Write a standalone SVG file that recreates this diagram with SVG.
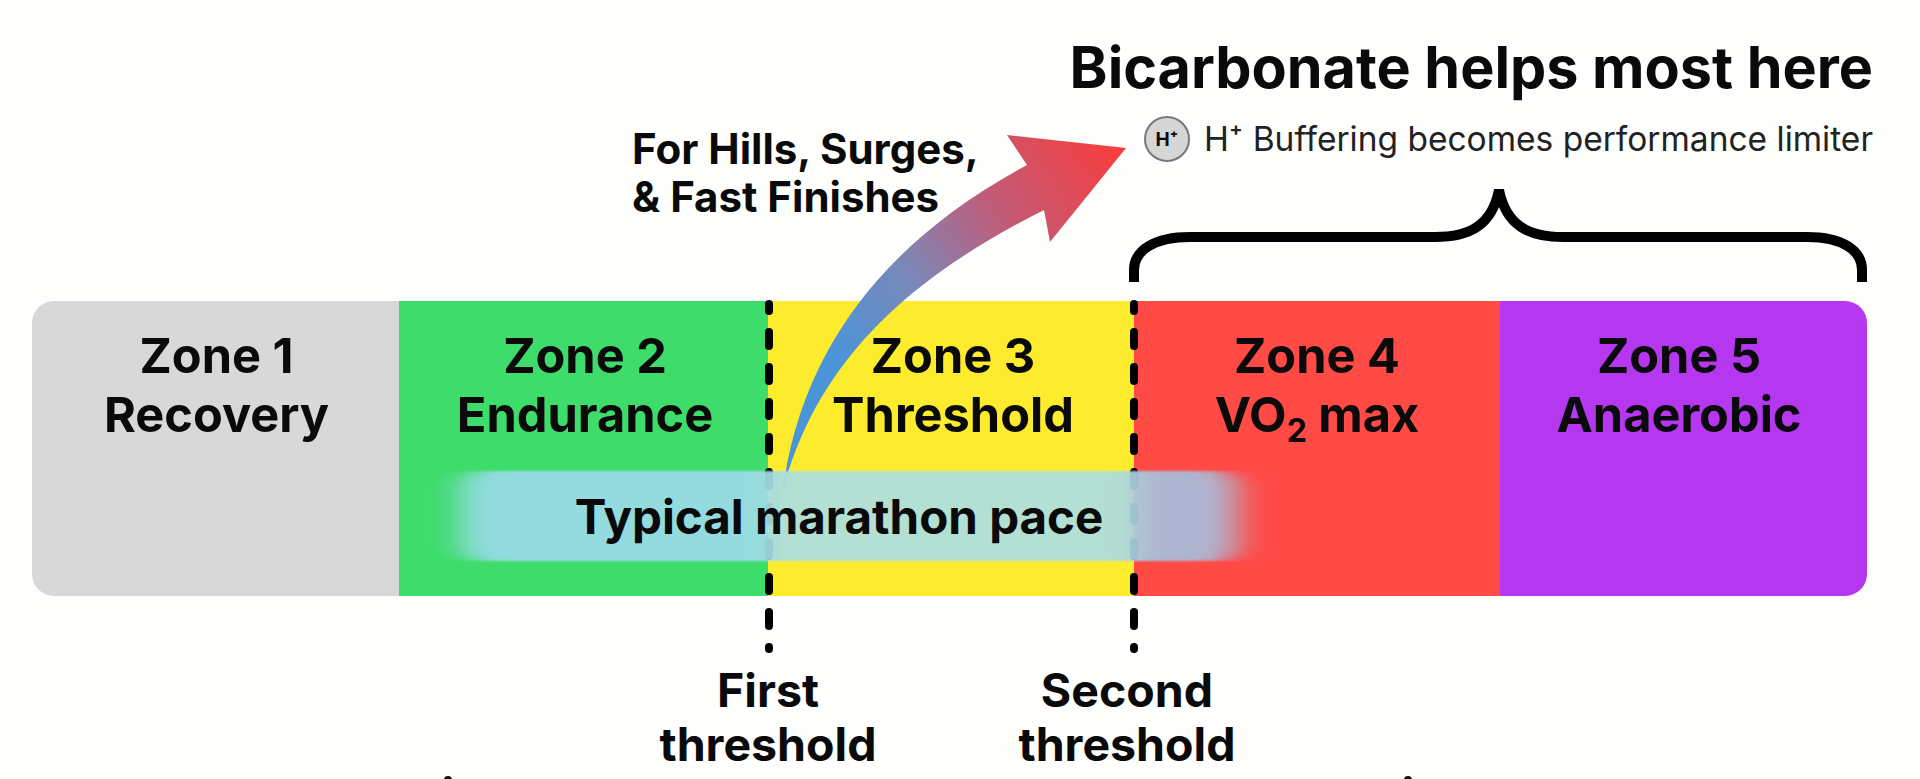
<svg xmlns="http://www.w3.org/2000/svg" width="1920" height="779" viewBox="0 0 1920 779">
<style>
text{font-family:"Inter","Liberation Sans",sans-serif;fill:#0a0a0a;text-anchor:middle}
.z{font-size:48.7px;font-weight:700}
.t{font-size:46.5px;font-weight:700}
.d{fill:none;stroke:#000;stroke-width:8;stroke-linecap:round;stroke-dasharray:14 21;stroke-dashoffset:7}
</style>
<defs>
<clipPath id="barClip"><rect x="32" y="301" width="1835" height="295" rx="22"/></clipPath>
<linearGradient id="arrowGrad" gradientUnits="userSpaceOnUse" x1="830" y1="350" x2="1126" y2="150">
<stop offset="0" stop-color="#4a94d8"/><stop offset="0.3" stop-color="#7a88b8"/><stop offset="0.6" stop-color="#c05c78"/><stop offset="1" stop-color="#fb3c3c"/>
</linearGradient>
<linearGradient id="paceGrad" gradientUnits="userSpaceOnUse" x1="452" y1="0" x2="1245" y2="0">
<stop offset="0" stop-color="#9adbe8"/><stop offset="0.399" stop-color="#9adbe8"/><stop offset="0.4" stop-color="#aee0e0"/><stop offset="0.86" stop-color="#aee0e0"/><stop offset="0.861" stop-color="#a8bedc"/><stop offset="1" stop-color="#a8bedc"/>
</linearGradient>
<filter id="soft" x="-8%" y="-5%" width="116%" height="110%"><feGaussianBlur stdDeviation="17 1.2"/></filter>
</defs>
<rect width="1920" height="779" fill="#fefefc"/>
<g id="bar" clip-path="url(#barClip)">
<rect id="zone1-band" x="32" y="301" width="367" height="295" fill="#d8d8d8"/>
<rect id="zone2-band" x="399" y="301" width="369" height="295" fill="#3ddc6b"/>
<rect id="zone3-band" x="768" y="301" width="366" height="295" fill="#fdec2e"/>
<rect id="zone4-band" x="1134" y="301" width="366" height="295" fill="#ff4a45"/>
<rect id="zone5-band" x="1500" y="301" width="367" height="295" fill="#b537f0"/>
</g>
<g id="connectors">
<path class="d" d="M769 304V649"/>
<path class="d" d="M1134 304V649"/>
<path id="brace" d="M1134 282V270C1134 250 1155 237 1190 237H1435C1470 237 1492 225 1499 190C1506 225 1528 237 1563 237H1807C1842 237 1862 250 1862 270V282" fill="none" stroke="#000" stroke-width="10"/>
<path id="arrow" d="M783 490C795 400 840 265 1027 165L1007 135L1126 148L1050 242L1044 210C925 270 820 350 783 490Z" fill="url(#arrowGrad)"/>
</g>
<g id="pace"><rect x="460" y="471" width="777" height="90" rx="22" fill="url(#paceGrad)" opacity="0.93" filter="url(#soft)"/><text class="t" x="839" y="534" style="font-size:47.500px">Typical marathon pace</text></g>
<g id="zone1"><text class="z" x="216.500" y="373">Zone 1</text><text class="z" x="216.500" y="432">Recovery</text></g>
<g id="zone2"><text class="z" x="585" y="373">Zone 2</text><text class="z" x="585" y="432">Endurance</text></g>
<g id="zone3"><text class="z" x="953" y="373">Zone 3</text><text class="z" x="953" y="432">Threshold</text></g>
<g id="zone4"><text class="z" x="1317" y="373">Zone 4</text><text class="z" x="1317" y="432">VO<tspan font-size="32" dy="10">2</tspan><tspan dy="-10"> max</tspan></text></g>
<g id="zone5"><text class="z" x="1679" y="373">Zone 5</text><text class="z" x="1679" y="432">Anaerobic</text></g>
<g id="title"><text x="1873" y="88" style="font-size:57.500px;font-weight:700;text-anchor:end">Bicarbonate helps most here</text></g>
<g id="subtitle">
<circle cx="1167" cy="139" r="22" fill="#d6d6d6" stroke="#777" stroke-width="2"/>
<text x="1167" y="146" style="font-size:19px;font-weight:700">H⁺</text>
<text x="1873" y="151" style="font-size:33.500px;font-weight:400;fill:#222;text-anchor:end">H⁺ Buffering becomes performance limiter</text>
</g>
<g id="hills"><text x="632" y="164" style="font-size:42px;font-weight:700;text-anchor:start">For Hills, Surges,</text><text x="632" y="212" style="font-size:42px;font-weight:700;text-anchor:start">&amp; Fast Finishes</text></g>
<g id="first"><text class="t" x="768" y="707">First</text><text class="t" x="768" y="761">threshold</text></g>
<g id="second"><text class="t" x="1127" y="707">Second</text><text class="t" x="1127" y="761">threshold</text></g>
<g id="edge-marks"><circle cx="448" cy="780" r="4" fill="#111"/><circle cx="1408" cy="780" r="4" fill="#111"/></g>
</svg>
